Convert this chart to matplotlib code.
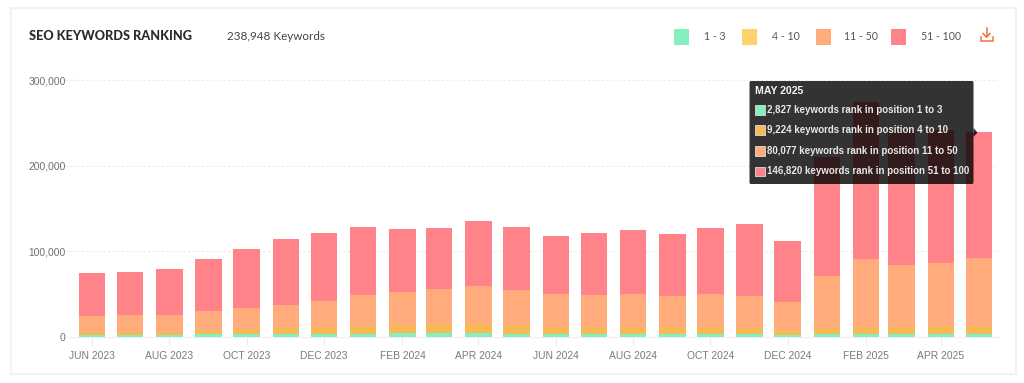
import matplotlib
matplotlib.use('Agg')
import matplotlib.pyplot as plt
import matplotlib.dates as mdates
from matplotlib.patches import Rectangle, FancyBboxPatch, Polygon
import numpy as np
import pandas as pd

months = pd.date_range('2023-06-01', periods=24, freq='MS')
rank_1_3 = [2000, 2000, 2000, 3000, 3000, 3500, 3500, 3700, 3900, 3900, 3900, 3500,
            3100, 3100, 3100, 2900, 3000, 2900, 2000, 3000, 3500, 3000, 3500, 2827]
rank_4_10 = [3500, 3500, 3800, 5200, 6000, 6500, 7500, 9000, 9400, 10500, 10500, 9800,
             8600, 8600, 8200, 8100, 8300, 7600, 6200, 7500, 8200, 8300, 9000, 9224]
rank_11_50 = [18700, 19800, 19500, 22200, 24100, 27000, 31000, 36400, 39300, 41700, 44900, 41700,
              38200, 37000, 38200, 36600, 38200, 37500, 32300, 60800, 78800, 72100, 73700, 80077]
rank_51_100 = [49900, 50700, 53500, 60100, 69900, 77600, 79600, 79200, 73700, 70900, 76000, 73600,
               67900, 72600, 74900, 72100, 77300, 83800, 71400, 138700, 183500, 158400, 155500, 146820]
series = [rank_1_3, rank_4_10, rank_11_50, rank_51_100]
bar_colors = ['#86EFBE', '#F6B955', '#FFAB7B', '#FF8388']

legend_labels = ['1 - 3', '4 - 10', '11 - 50', '51 - 100']
legend_colors = ['#86EFBE', '#FFD36B', '#FFAB7B', '#FF8388']
tooltip_title = 'MAY 2025'
tooltip_lines = ['2,827 keywords rank in position 1 to 3',
                 '9,224 keywords rank in position 4 to 10',
                 '80,077 keywords rank in position 11 to 50',
                 '146,820 keywords rank in position 51 to 100']
W, H = 1024, 383

fig = plt.figure(figsize=(W / 100, H / 100), dpi=100, facecolor='white')

# card behind everything, pixel coordinates
bg = fig.add_axes([0, 0, 1, 1], zorder=0)
bg.set_xlim(0, W)
bg.set_ylim(H, 0)
bg.axis('off')
bg.add_patch(Rectangle((10.5, 7.5), 1005, 366.5, fc='white', ec='#F2F2F2', lw=1.5))

# chart
ax = fig.add_axes([72 / W, 1 - 336.7 / H, 926 / W, 256.7 / H], zorder=1)
ax.patch.set_alpha(0)
x = mdates.date2num(months)
bottom = np.zeros(len(x))
for vals, c in zip(series, bar_colors):
    ax.bar(x, vals, width=20.9, bottom=bottom, color=c, linewidth=0, zorder=3)
    bottom += np.array(vals)

ax.set_xlim(x[0] - 15.8, x[-1] + 15)
ax.set_ylim(0, 300000)
ax.set_yticks([0, 100000, 200000, 300000])
ax.set_yticklabels(['0', '100,000', '200,000', '300,000'], family='Liberation Sans',
                   fontsize=7.4, color='#707070')
ax.set_xticks(x[::2])
ax.set_xticklabels([m.strftime('%b %Y').upper() for m in months[::2]], family='Liberation Sans',
                   fontsize=7.4, color='#7A7A7A')
ax.tick_params(axis='y', length=6, width=0.8, color='#F0F0F0', pad=-1.5)
ax.tick_params(axis='x', length=6, width=0.8, color='#ECECEC', pad=4)
ax.grid(axis='y', color='#EAEAEA', lw=0.8, ls=(0, (2, 2)), zorder=0)
for s in ['top', 'right', 'left']:
    ax.spines[s].set_visible(False)
ax.spines['bottom'].set_color('#EEEEEE')

# header, legend and tooltip on top
top = fig.add_axes([0, 0, 1, 1], zorder=2)
top.set_xlim(0, W)
top.set_ylim(H, 0)
top.axis('off')
top.patch.set_alpha(0)
top.text(29, 36, 'SEO KEYWORDS RANKING', family='Lato', weight='black', fontsize=9.2,
         color='#2A2A2A', va='center')
top.text(227, 36.5, '238,948 Keywords', family='Lato', fontsize=8.4, color='#444444', va='center')

swatch_x = [674, 741.7, 816, 891]
text_x = [704, 772, 844, 921]
for sx, tx, lab, c in zip(swatch_x, text_x, legend_labels, legend_colors):
    top.add_patch(Rectangle((sx, 29.3), 15.3, 15.3, fc=c, ec='none'))
    top.text(tx, 36, lab, family='Lato', fontsize=7.6, color='#555555', va='center')

# download icon
icon = '#F4703C'
top.plot([986.5, 986.5], [28, 37], color=icon, lw=1.1)
top.plot([983, 986.5, 990], [33.5, 37, 33.5], color=icon, lw=1.1)
top.plot([980.5, 980.5, 993, 993], [36.5, 40.5, 40.5, 36.5], color=icon, lw=1.1)

# tooltip
top.add_patch(FancyBboxPatch((749.5, 81), 224, 103, boxstyle='round,pad=0,rounding_size=1.5',
                             fc=(0, 0, 0, 0.8), ec='none'))
top.add_patch(Polygon([(973.5, 128), (977.5, 132.5), (973.5, 137)], fc=(0, 0, 0, 0.8), ec='none'))
top.text(755, 91.5, tooltip_title, family='Liberation Sans', weight='bold', fontsize=7.6,
         color='#F5F5F5', va='center')
row_y = [110, 130, 151, 171.5]
tip_colors = ['#86EFBE', '#F6B955', '#FFAB7B', '#FF8388']
for ry, line, c in zip(row_y, tooltip_lines, tip_colors):
    top.add_patch(Rectangle((755, ry - 5), 9.5, 9.5, fc=c, ec='#DDDDDD', lw=0.6))
    top.text(766.7, ry, line, family='Liberation Sans', weight='bold', fontsize=7.0,
             color='#E8E8E8', va='center')

fig.savefig('out.png', dpi=100, facecolor='white')
